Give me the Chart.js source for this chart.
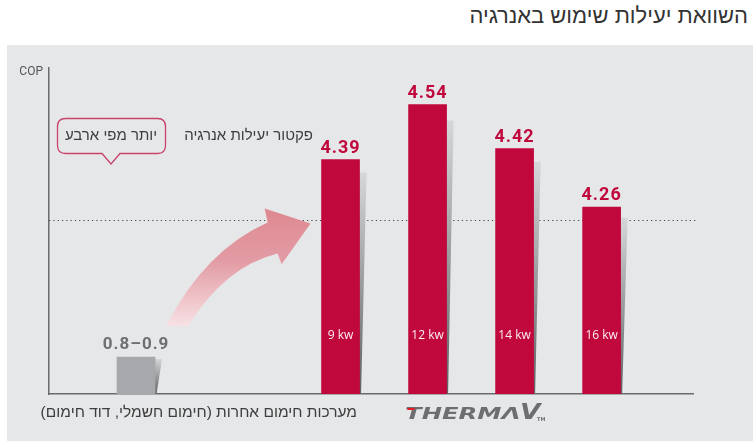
<!DOCTYPE html>
<html lang="he">
<head>
<meta charset="utf-8">
<title>השוואת יעילות שימוש באנרגיה</title>
<script src="https://cdn.jsdelivr.net/npm/chart.js@4.4.1/dist/chart.umd.min.js"></script>
<style>
  html, body { margin: 0; padding: 0; background: #fff; }
  body { width: 753px; height: 441px; position: relative; overflow: hidden; }
  h1 {
    position: absolute; right: 5px; top: 3px; margin: 0;
    font: 400 22px "Liberation Sans Narrow", "Liberation Sans", sans-serif;
    color: #333; direction: rtl; white-space: nowrap;
  }
  .panel { position: absolute; left: 7px; top: 45px; width: 746px; height: 396px; background: #e6e7e9; }
  canvas { display: block; }
</style>
</head>
<body>
<h1 dir="rtl">השוואת יעילות שימוש באנרגיה</h1>
<div class="panel"><canvas id="copChart" width="746" height="396"></canvas></div>
<script>
// Therma V models and their COP
var kwLabels = ["9 kw", "12 kw", "14 kw", "16 kw"];
var thermaCop = [4.39, 4.54, 4.42, 4.26];

// other heating systems: COP range
var otherLabel = "מערכות חימום אחרות (חימום חשמלי, דוד חימום)";
var otherCop = [0.8, 0.9];

// reference line ("more than four times")
var copLine = 4;
var copTitle = "COP";
var factorText = "פקטור יעילות אנרגיה";
var calloutText = "יותר מפי ארבע";

var RED = "#c0083d";
var GREY_BAR = "#a7a8ab";

function roundRectCallout(ctx, x, y, w, h, r, tipX, tipY, tipHalf) {
    ctx.beginPath();
    ctx.moveTo(x + r, y);
    ctx.lineTo(x + w - r, y);
    ctx.quadraticCurveTo(x + w, y, x + w, y + r);
    ctx.lineTo(x + w, y + h - r);
    ctx.quadraticCurveTo(x + w, y + h, x + w - r, y + h);
    ctx.lineTo(tipX + tipHalf, y + h);
    ctx.lineTo(tipX, tipY);
    ctx.lineTo(tipX - tipHalf, y + h);
    ctx.lineTo(x + r, y + h);
    ctx.quadraticCurveTo(x, y + h, x, y + h - r);
    ctx.lineTo(x, y + r);
    ctx.quadraticCurveTo(x, y, x + r, y);
    ctx.closePath();
}

// bars on the zoomed scale start below the plot, so clip their base to it
function barBase(el, area) {
    return Math.min(el.base, area.bottom);
}

var decor = {
    id: "decor",
    beforeDatasetsDraw: function(chart) {
        var ctx = chart.ctx, area = chart.chartArea;
        var yLine = Math.round(chart.scales.y.getPixelForValue(copLine)) + 0.5;

        ctx.save();
        // dotted COP 4 line
        ctx.strokeStyle = "#4a4a4a";
        ctx.lineWidth = 1;
        ctx.setLineDash([1.3, 3]);
        ctx.beginPath();
        ctx.moveTo(area.left, yLine);
        ctx.lineTo(area.right + 4, yLine);
        ctx.stroke();
        ctx.setLineDash([]);

        // curved arrow from the grey bar up to the first Therma V bar
        var grey = chart.getDatasetMeta(1).data[0];
        var first = chart.getDatasetMeta(0).data[0];
        var ox = grey.x + grey.width / 2, oy = grey.y;
        var dx = (first.x - first.width / 2 - 11) - ox, dy = (yLine + 3) - oy;
        function P(u, v) { return [ox + u * dx, oy + v * dy]; }
        var s1 = P(0.071, 0.231), c1 = P(0.321, 0.799), e1 = P(0.724, 1.007);
        var h1 = P(0.705, 1.112), tip = P(1, 1), h2 = P(0.814, 0.694);
        var e2 = P(0.788, 0.776), c2 = P(0.449, 0.679), s2 = P(0.212, 0.231);
        var grad = ctx.createLinearGradient(0, h1[1], 0, s1[1]);
        grad.addColorStop(0, "#de8891");
        grad.addColorStop(0.45, "#e39ca4");
        grad.addColorStop(1, "#f7e1e4");
        ctx.fillStyle = grad;
        ctx.beginPath();
        ctx.moveTo(s1[0], s1[1]);
        ctx.quadraticCurveTo(c1[0], c1[1], e1[0], e1[1]);
        ctx.lineTo(h1[0], h1[1]);
        ctx.lineTo(tip[0], tip[1]);
        ctx.lineTo(h2[0], h2[1]);
        ctx.lineTo(e2[0], e2[1]);
        ctx.quadraticCurveTo(c2[0], c2[1], s2[0], s2[1]);
        ctx.closePath();
        ctx.fill();

        // slanted shadow to the right of every bar
        [0, 1].forEach(function(d) {
            chart.getDatasetMeta(d).data.forEach(function(el) {
                var base = barBase(el, area);
                var h = base - el.y;
                var top = el.y + h * 0.055;
                var r = el.x + el.width / 2;
                var g = ctx.createLinearGradient(r + 7, top, r, base);
                g.addColorStop(0, "#d6d7d9");
                g.addColorStop(1, "#5f6063");
                ctx.fillStyle = g;
                ctx.beginPath();
                ctx.moveTo(r - 1, top);
                ctx.lineTo(r + 7, top);
                ctx.lineTo(r + 1.5, base);
                ctx.lineTo(r - 1, base);
                ctx.closePath();
                ctx.fill();
            });
        });
        ctx.restore();
    },
    afterDatasetsDraw: function(chart) {
        var ctx = chart.ctx, area = chart.chartArea;
        var red = chart.getDatasetMeta(0).data;
        var grey = chart.getDatasetMeta(1).data[0];

        ctx.save();
        ctx.textAlign = "center";
        ctx.textBaseline = "alphabetic";

        // values above the bars
        ctx.letterSpacing = "1px";
        ctx.font = "bold 18px Roboto";
        ctx.fillStyle = RED;
        red.forEach(function(el, i) {
            ctx.fillText(thermaCop[i].toFixed(2), el.x, el.y - 7);
        });
        ctx.font = "bold 17px Roboto";
        ctx.fillStyle = "#6e6f71";
        ctx.fillText(otherCop[0].toFixed(1) + "\u2013" + otherCop[1].toFixed(1), grey.x, grey.y - 8);
        ctx.letterSpacing = "0px";

        // model names inside the bars
        ctx.font = "12px 'Open Sans'";
        ctx.fillStyle = "#fbeef2";
        red.forEach(function(el, i) {
            ctx.fillText(kwLabels[i], el.x, barBase(el, area) - 55);
        });

        // axis caption
        ctx.font = "12px Roboto";
        ctx.fillStyle = "#555";
        ctx.textAlign = "right";
        ctx.textBaseline = "middle";
        ctx.fillText(copTitle, area.left - 6, area.top + 4);

        // hebrew captions
        ctx.direction = "rtl";
        ctx.font = "15px 'Liberation Sans'";
        ctx.fillStyle = "#3d3d3d";
        ctx.fillText(factorText, area.left + 264, area.top + 68);
        ctx.textAlign = "center";
        ctx.fillText(calloutText, area.left + 62, area.top + 68);
        ctx.textAlign = "right";
        ctx.font = "15.5px 'Liberation Sans'";
        ctx.fillText(otherLabel, area.left + 308, area.bottom + 19);

        // callout frame
        ctx.strokeStyle = "#c9436b";
        ctx.lineWidth = 1.3;
        roundRectCallout(ctx, area.left + 8.5, area.top + 50.5, 108, 35, 8, area.left + 62, area.top + 96, 9);
        ctx.stroke();

        // THERMA V wordmark under the red group
        ctx.direction = "ltr";
        ctx.textBaseline = "alphabetic";
        ctx.textAlign = "left";
        var cx = (red[0].x + red[red.length - 1].x) / 2;
        var by = area.bottom + 25;
        ctx.save();
        ctx.translate(cx - 66, by);
        ctx.scale(1.62, 1);
        ctx.font = "italic bold 15px 'DejaVu Sans'";
        ctx.fillStyle = "#6d6e71";
        ctx.fillText("THERMΛ", 0, 0);
        ctx.restore();
        ctx.fillStyle = "#e41b23";
        ctx.beginPath();
        ctx.moveTo(cx - 63, by - 11);
        ctx.lineTo(cx - 56, by - 11);
        ctx.lineTo(cx - 57, by - 9);
        ctx.lineTo(cx - 64, by - 9);
        ctx.closePath();
        ctx.fill();
        ctx.save();
        ctx.translate(cx + 49, by);
        ctx.scale(1.2, 1);
        ctx.font = "italic bold 22px 'DejaVu Sans'";
        ctx.fillStyle = "#6d6e71";
        ctx.fillText("V", 0, 0);
        ctx.restore();
        ctx.font = "bold 5px 'DejaVu Sans'";
        ctx.fillStyle = "#6d6e71";
        ctx.fillText("TM", cx + 66, by + 2);
        ctx.restore();
    }
};

var ctx = document.getElementById("copChart");

var chartData = {
    datasets: [{
        label: "Therma V",
        data: thermaCop.map(function(v, i) { return { x: i, y: v }; }),
        xAxisID: "x",
        yAxisID: "yr",
        backgroundColor: RED,
        barThickness: 38,
        grouped: false
    }, {
        label: otherLabel,
        data: [{ x: 0, y: (otherCop[0] + otherCop[1]) / 2 }],
        xAxisID: "xg",
        yAxisID: "y",
        backgroundColor: GREY_BAR,
        barThickness: 38,
        grouped: false
    }]
};

var axisBorder = { display: true, color: "#6b6b6b", width: 1.5 };

var config = {
    type: "bar",
    data: chartData,
    options: {
        responsive: false,
        animation: false,
        events: [],
        layout: { padding: { left: 42, top: 23, right: 60, bottom: 47 } },
        plugins: { legend: { display: false }, tooltip: { enabled: false } },
        scales: {
            x: {
                type: "linear", min: -3.35, max: 4.05, offset: false,
                ticks: { display: false }, grid: { display: false, drawTicks: false },
                border: axisBorder
            },
            xg: { type: "linear", axis: "x", min: -1, max: 6.4, offset: false, display: false },
            y: {
                min: 0, max: 7.5,
                ticks: { display: false }, grid: { display: false, drawTicks: false },
                border: axisBorder
            },
            yr: { min: 3.75, max: 4.64, display: false }
        }
    },
    plugins: [decor]
};

var copChart = new Chart(ctx, config);
</script>
</body>
</html>
